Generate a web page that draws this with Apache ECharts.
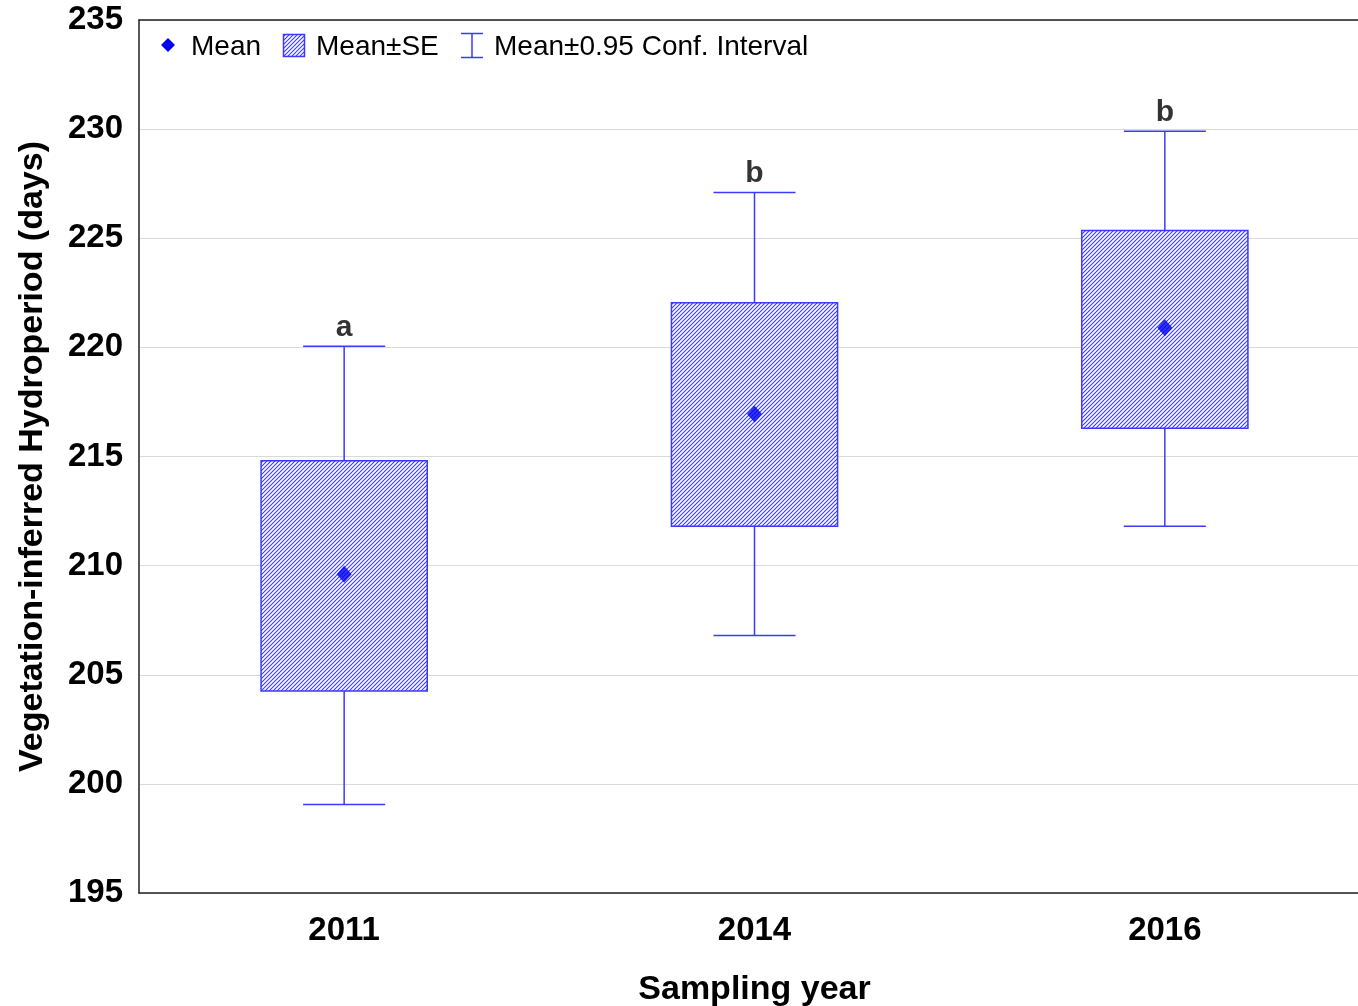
<!DOCTYPE html>
<html>
<head>
<meta charset="utf-8">
<title>Vegetation-inferred Hydroperiod by Sampling year</title>
<script src="https://cdn.jsdelivr.net/npm/echarts@6/dist/echarts.min.js"></script>
<style>
  html, body { margin: 0; padding: 0; background: #ffffff; }
  #chart { width: 1358px; height: 1006px; }
</style>
</head>
<body>
<div id="chart"></div>
<script>
// Sampling years and summary statistics (days)
const years = ['2011', '2014', '2016'];
const means = [209.6, 216.95, 220.9];
const seLow = [204.25, 211.8, 216.3];
const seHigh = [214.8, 222.05, 225.35];
const ciLow = [199.05, 206.8, 211.8];
const ciHigh = [220.05, 227.1, 229.9];
const groupLetters = ['a', 'b', 'b'];
const yTicks = { min: 195, max: 235, step: 5 };

const BLUE = '#3a3aff';
const MEAN_BLUE = '#0000f0';
const FONT = '"Liberation Sans", Arial, sans-serif';

// Diagonal hatch tile used for the Mean±SE boxes
function hatchTile() {
  const s = 8;
  const c = document.createElement('canvas');
  c.width = s; c.height = s;
  const g = c.getContext('2d');
  g.fillStyle = 'rgb(255,255,255)';
  g.fillRect(0, 0, s, s);
  g.strokeStyle = 'rgb(58,58,255)';
  g.lineWidth = 1.1;
  g.beginPath();
  for (let k = -2; k <= 4; k++) {
    const o = k * 4;
    g.moveTo(o - 1, s + 1);
    g.lineTo(o + s + 1, -1);
  }
  g.stroke();
  return c;
}
const hatch = { image: hatchTile(), repeat: 'repeat' };

const boxData = years.map((y, i) => [i, seLow[i], seHigh[i]]);
const ciData = years.map((y, i) => [i, ciLow[i], ciHigh[i]]);
const meanData = years.map((y, i) => [i, means[i]]);
const letterData = years.map((y, i) => ({ value: [i, ciHigh[i]], letter: groupLetters[i] }));

const chart = echarts.init(document.getElementById('chart'), null, { renderer: 'canvas' });

chart.setOption({
  animation: false,
  backgroundColor: '#ffffff',
  // the plot frame runs a little past the right edge of the page
  grid: { left: 139, top: 20, width: 1231, height: 873, show: false, outerBoundsMode: 'none', containLabel: false },
  xAxis: [
    {
      type: 'category',
      data: years,
      position: 'bottom',
      boundaryGap: true,
      axisLine: { lineStyle: { color: '#222', width: 1.5 } },
      axisTick: { inside: true, length: 7, alignWithLabel: true, lineStyle: { color: '#222' } },
      axisLabel: { fontFamily: FONT, fontWeight: 'bold', fontSize: 33, color: '#000', margin: 21 },
      splitLine: { show: false },
      name: 'Sampling year',
      nameLocation: 'middle',
      nameGap: 80,
      nameTextStyle: { fontFamily: FONT, fontWeight: 'bold', fontSize: 34, color: '#000' }
    },
    {
      type: 'category',
      data: years,
      position: 'top',
      boundaryGap: true,
      axisLine: { lineStyle: { color: '#222', width: 1.5 } },
      axisTick: { inside: true, length: 7, alignWithLabel: true, lineStyle: { color: '#222' } },
      axisLabel: { show: false }
    }
  ],
  yAxis: {
    type: 'value',
    min: yTicks.min,
    max: yTicks.max,
    interval: yTicks.step,
    axisLine: { show: true, lineStyle: { color: '#222', width: 1.5 } },
    axisTick: { show: false },
    axisLabel: { fontFamily: FONT, fontWeight: 'bold', fontSize: 33, color: '#000', margin: 16, padding: [4, 0, 0, 0] },
    splitLine: { lineStyle: { color: '#dadada', width: 1 } },
    name: 'Vegetation-inferred Hydroperiod (days)',
    nameLocation: 'middle',
    nameGap: 89,
    nameTextStyle: { fontFamily: FONT, fontWeight: 'bold', fontSize: 34, color: '#000' }
  },
  series: [
    {
      name: 'Mean±0.95 Conf. Interval',
      type: 'custom',
      z: 2,
      data: ciData,
      renderItem: function (params, api) {
        const x = api.value(0);
        const lo = api.coord([x, api.value(1)]);
        const hi = api.coord([x, api.value(2)]);
        const half = api.size([1, 0])[0] * 0.1;
        const style = { stroke: BLUE, lineWidth: 1.5, fill: null };
        return {
          type: 'group',
          children: [
            { type: 'line', shape: { x1: lo[0], y1: lo[1], x2: hi[0], y2: hi[1] }, style },
            { type: 'line', shape: { x1: hi[0] - half, y1: hi[1], x2: hi[0] + half, y2: hi[1] }, style },
            { type: 'line', shape: { x1: lo[0] - half, y1: lo[1], x2: lo[0] + half, y2: lo[1] }, style }
          ]
        };
      }
    },
    {
      name: 'Mean±SE',
      type: 'custom',
      z: 3,
      data: boxData,
      renderItem: function (params, api) {
        const x = api.value(0);
        const lo = api.coord([x, api.value(1)]);
        const hi = api.coord([x, api.value(2)]);
        const w = api.size([1, 0])[0] * 0.405;
        return {
          type: 'rect',
          shape: { x: lo[0] - w / 2, y: hi[1], width: w, height: lo[1] - hi[1] },
          style: { fill: hatch, stroke: BLUE, lineWidth: 1.5 }
        };
      }
    },
    {
      name: 'Mean',
      type: 'scatter',
      z: 4,
      symbol: 'diamond',
      symbolSize: [15, 17],
      itemStyle: { color: MEAN_BLUE },
      data: meanData
    },
    {
      name: 'letters',
      type: 'scatter',
      z: 5,
      symbolSize: 0,
      silent: true,
      data: letterData,
      label: {
        show: true,
        position: 'top',
        distance: 4,
        formatter: function (p) { return p.data.letter; },
        fontFamily: FONT,
        fontWeight: 'bold',
        fontSize: 30,
        color: '#000'
      }
    }
  ],
  graphic: [
    // legend: Mean
    {
      type: 'polygon',
      shape: { points: [[168, 38], [175, 45], [168, 52], [161, 45]] },
      style: { fill: MEAN_BLUE }
    },
    {
      type: 'text', left: 191, top: 33,
      style: { text: 'Mean', font: '28px ' + FONT, fill: '#000' }
    },
    // legend: Mean±SE
    {
      type: 'rect',
      shape: { x: 283.5, y: 34.5, width: 21, height: 22 },
      style: { fill: hatch, stroke: BLUE, lineWidth: 1.5 }
    },
    {
      type: 'text', left: 316, top: 33,
      style: { text: 'Mean±SE', font: '28px ' + FONT, fill: '#000' }
    },
    // legend: Mean±0.95 Conf. Interval
    {
      type: 'group',
      children: [
        { type: 'line', shape: { x1: 461, y1: 33.5, x2: 483, y2: 33.5 }, style: { stroke: BLUE, lineWidth: 1.5 } },
        { type: 'line', shape: { x1: 461, y1: 57.5, x2: 483, y2: 57.5 }, style: { stroke: BLUE, lineWidth: 1.5 } },
        { type: 'line', shape: { x1: 472, y1: 33.5, x2: 472, y2: 57.5 }, style: { stroke: BLUE, lineWidth: 1.5 } }
      ]
    },
    {
      type: 'text', left: 494, top: 33,
      style: { text: 'Mean±0.95 Conf. Interval', font: '28px ' + FONT, fill: '#000' }
    }
  ]
});
</script>
</body>
</html>
